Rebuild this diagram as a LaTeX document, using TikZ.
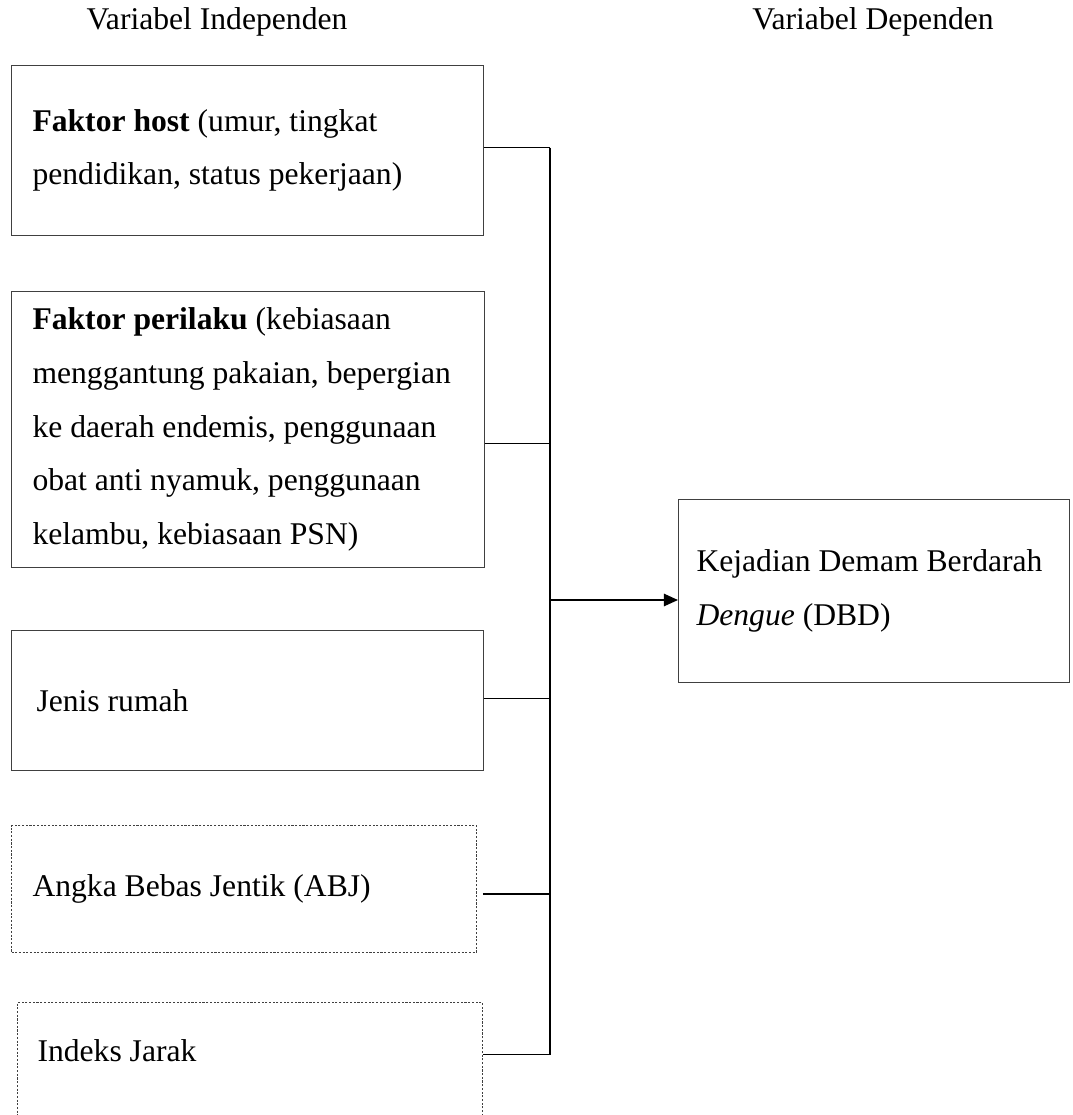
\documentclass[tikz,border=0pt]{standalone}
\usepackage{fontspec}
\setmainfont{Liberation Serif}
\usetikzlibrary{arrows.meta,positioning,calc}

\begin{document}
\begin{tikzpicture}[
  x=0.02cm, y=-0.02cm,
  every node/.style={font=\fontsize{18}{30.6}\selectfont},
  box/.style={draw=black!75, line width=0.6pt, anchor=north west, align=flush left, inner xsep=0.42cm, inner ysep=0pt},
  dotbox/.style={box, dash pattern=on 1.2pt off 0.9pt},
  wire/.style={line width=1pt},
  arrow/.style={wire, -{Triangle[length=8pt,width=7pt]}},
  lab/.style={inner sep=0pt}
]
\useasboundingbox (0,0) rectangle (1072,1115);

% judul kolom
\node[lab] (indep) at (217,22) {Variabel Independen};
\node[lab] (dep) at (873,22) {Variabel Dependen};

% variabel independen
\node[box, minimum width=9.44cm, minimum height=3.4cm, text width=8.6cm] (host) at (11,65)
  {\textbf{Faktor host} (umur, tingkat\\pendidikan, status pekerjaan)};
\node[box, minimum width=9.46cm, minimum height=5.52cm, text width=8.62cm] (perilaku) at (11,291)
  {\textbf{Faktor perilaku} (kebiasaan\\menggantung pakaian, bepergian\\ke daerah endemis, penggunaan\\obat anti nyamuk, penggunaan\\kelambu, kebiasaan PSN)};
\node[box, inner xsep=0.5cm, minimum width=9.44cm, minimum height=2.8cm, text width=8.44cm] (rumah) at (11,630)
  {Jenis rumah};
\node[dotbox, minimum width=9.3cm, minimum height=2.54cm, text width=8.46cm] (abj) at (11,825)
  {Angka Bebas Jentik (ABJ)};
\node[dotbox, inner xsep=0.4cm, minimum width=9.3cm, minimum height=2.56cm, text width=8.5cm,
  text height=12.5pt, text depth=18pt] (jarak) at (17,1002)
  {Indeks Jarak};

% variabel dependen
\node[box, inner xsep=0.36cm, minimum width=7.82cm, minimum height=3.66cm, text width=7.1cm] (dbd) at (678,499)
  {Kejadian Demam Berdarah\\\textit{Dengue} (DBD)};

% garis penghubung
\coordinate (bus) at (550,0);
\draw[wire] ($(host.east)+(0,-3)$) coordinate (h1) -- (h1 -| bus);
\draw[wire] ($(perilaku.east)+(0,14)$) coordinate (h2) -- (h2 -| bus);
\draw[wire] ($(rumah.east)+(0,-2)$) coordinate (h3) -- (h3 -| bus);
\draw[wire] ($(abj.east)+(6,5)$) coordinate (h4) -- (h4 -| bus);
\draw[wire] ($(jarak.east)+(0,-12)$) coordinate (h5) -- (h5 -| bus);
\draw[wire] (h1 -| bus) -- (h5 -| bus);
\coordinate (hub) at (550,600);
\draw[arrow] (hub) -- (hub -| dbd.west);
\end{tikzpicture}
\end{document}
